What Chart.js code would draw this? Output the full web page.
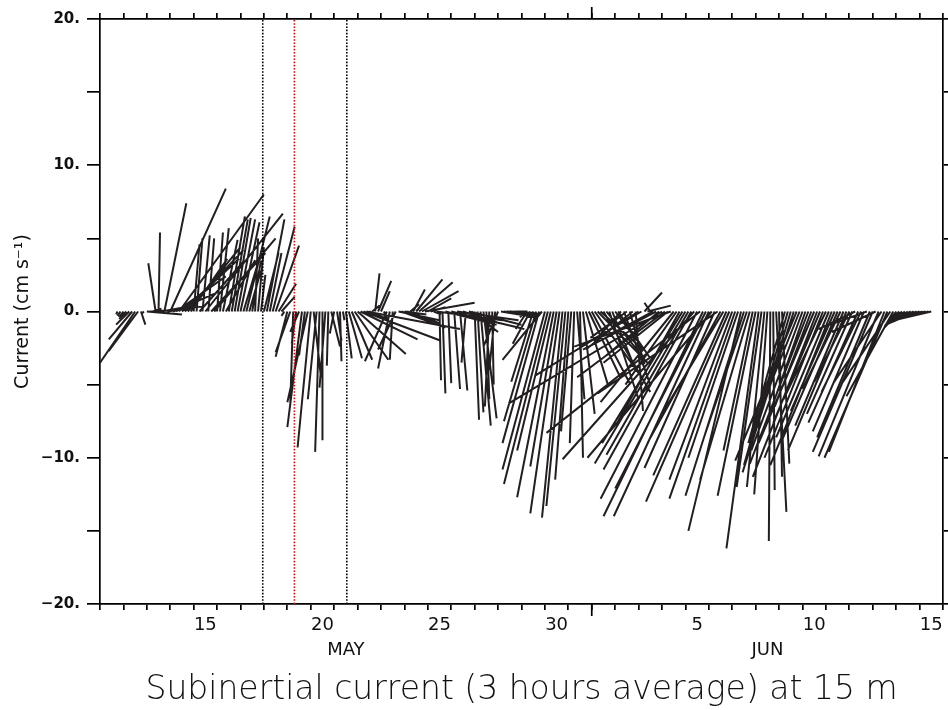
<!DOCTYPE html>
<html>
<head>
<meta charset="utf-8">
<script src="https://cdn.jsdelivr.net/npm/chart.js@4.4.0/dist/chart.umd.min.js"></script>
<style>
html,body{margin:0;padding:0;background:#ffffff;}
#wrap{width:948px;height:710px;position:relative;}
</style>
</head>
<body>
<div id="wrap"><canvas id="c" width="948" height="710"></canvas></div>
<script>
// ---- time axis: days after 11 May 00:00 ----
const START_DAY = 0.75;      // first 3-hour average (11 May 18:00)
const STEP_DAYS = 0.125;     // 3 hours
const STICK_DAYS_PER_CMS = 0.6245; // stick x-extent: days per cm/s (equal aspect with y)

// ---- eastward (u) and northward (v) current, cm/s, one value per 3 h ----
const uVel = [
 -0.1,-0.2,-0.3,-0.5,-0.9,-1.6,-2.4,-2.0,0.3,-0.1,
 2.4,1.8,0.6,-0.5,0.1,1.6,1.5,2.6,3.8,2.8,
 3.4,5.8,3.9,4.0,3.6,2.5,0.4,0.4,3.0,0.5,
 5.3,0.4,3.7,4.2,0.4,0.6,1.0,2.0,1.1,1.1,
 1.1,1.2,1.3,1.2,1.6,0.8,0.6,0.2,0.4,0.3,
 1.0,1.2,0.8,1.5,1.6,1.2,0.9,-0.2,-0.8,-1.0,
 -0.2,-0.3,-0.6,-1.0,-0.4,-1.4,-0.9,0.5,-0.6,-0.3,
 0.0,-0.4,-0.1,0.6,-0.3,0.3,0.1,0.1,0.4,0.9,
 1.4,2.3,3.3,3.9,5.3,6.4,1.2,0.5,0.3,0.9,
 0.6,0.3,-1.5,-0.8,-0.2,-1.2,2.8,3.0,1.5,2.2,
 0.6,0.8,1.8,2.3,2.5,3.4,1.6,1.0,0.5,4.5,
 0.1,0.2,3.5,0.2,5.0,0.4,4.2,0.5,2.5,-0.3,
 3.6,1.8,0.3,0.4,0.7,0.9,0.2,-0.3,0.1,-0.4,
 -1.0,2.4,2.3,2.2,1.9,1.5,0.8,0.3,0.2,-0.3,
 -0.8,-1.2,-1.5,-2.2,-2.5,-2.7,-2.9,-3.0,-2.3,-2.5,
 -1.8,-2.0,-1.4,-1.3,-0.9,-0.7,-0.3,0.5,0.2,0.8,
 1.5,2.2,2.6,3.0,3.5,2.9,3.2,2.4,2.0,1.6,
 1.5,2.2,-1.8,1.8,-2.5,1.0,-3.2,0.5,-7.1,-4.2,
 1.2,1.6,-0.4,-3.0,-5.0,-3.6,-10.5,-6.0,-4.4,-6.6,
 -5.0,-3.5,-4.2,-5.5,-6.2,-5.6,-6.0,-9.0,-6.6,-10.5,
 -6.8,-6.2,-6.5,-8.5,-4.8,-8.2,-5.0,-4.2,-5.0,-5.7,
 -4.3,-4.5,-3.4,-3.6,-4.0,-2.9,-3.4,-2.0,-2.6,-2.2,
 -1.7,-1.2,-0.9,-0.1,0.1,0.7,0.2,0.5,-2.5,-3.0,
 -2.4,-3.5,-4.2,-2.8,-3.5,-2.8,-4.0,-2.5,-3.8,-4.4,
 -3.2,-4.0,-2.9,-3.6,-4.2,-3.0,-3.8,-2.6,-3.3,-4.0,
 -2.4,-3.1,-2.5,-3.4,-2.7,-3.5,-2.8,-3.6,-4.1,-3.0,
 -4.1,-3.3,-3.8,-4.3,-3.3,-3.2,-0.8,-1.0,-1.2,-1.4,
 -1.6,-1.7,-1.9,-2.1,-2.3,-2.5,-2.6,-2.8,-3.0
];
const vVel = [
 -0.2,-0.3,-0.4,-0.5,-0.9,-1.9,-3.5,-2.7,-0.9,-0.1,
 -0.2,0.1,0.2,3.3,5.4,0.3,7.4,0.4,8.4,1.2,
 2.4,8.0,3.6,4.2,4.4,3.6,4.6,5.0,3.4,5.2,
 6.7,5.0,4.0,5.0,5.4,5.7,4.9,3.5,6.5,6.3,
 6.4,6.3,6.1,4.0,6.5,2.8,3.5,5.0,4.4,2.5,
 4.0,6.3,4.0,5.8,4.5,1.9,1.0,-0.3,-3.1,-2.8,
 -6.4,-2.2,-1.4,-7.9,-3.0,-6.2,-9.3,-4.5,-6.0,-9.6,
 -8.8,-5.2,-3.7,-2.4,-1.5,-2.0,-3.4,-0.6,-3.2,-3.2,
 -3.3,-3.3,-2.9,-1.9,-2.0,-1.2,-0.5,0.4,2.6,2.1,
 1.4,-0.7,-3.4,-3.9,-3.3,-2.6,-0.6,-1.1,-0.2,-0.8,
 0.5,1.5,2.2,2.0,1.4,0.6,0.9,0.3,-0.2,-0.6,
 -4.7,-5.6,-0.9,-4.9,-1.2,-5.3,-0.6,-5.4,-0.8,-3.5,
 -0.9,-1.4,-7.4,-6.9,-7.8,-7.3,-6.0,-6.5,-5.0,-4.0,
 -2.4,-0.4,-0.3,-0.2,-0.15,-0.1,0.0,0.0,-0.1,-0.4,
 -1.2,-2.2,-4.8,-7.5,-9.0,-3.3,-10.8,-11.8,-9.5,-12.7,
 -10.6,-13.8,-14.1,-13.3,-11.5,-8.2,-9.0,-6.0,-10.0,-7.0,
 -5.0,-4.6,-4.9,-4.2,-3.6,-2.6,-5.5,-3.0,-6.0,-4.0,
 -2.0,-3.2,-2.0,-5.0,-1.8,-3.6,-2.6,-6.8,-4.4,-2.4,
 1.3,0.4,0.6,-1.6,-2.6,-3.0,-6.3,-4.5,-3.5,-2.4,
 -6.2,-5.0,-7.5,-9.0,-10.4,-9.8,-10.8,-10.1,-12.8,-8.3,
 -14.0,-12.1,-14.0,-10.0,-10.7,-5.6,-9.0,-7.0,-11.2,-13.0,
 -11.5,-12.8,-10.0,-15.0,-12.6,-8.5,-11.5,-9.5,-12.6,-16.2,
 -12.0,-12.0,-12.5,-15.7,-12.2,-13.7,-11.3,-10.4,-9.0,-10.5,
 -8.0,-11.0,-10.2,-7.0,-9.5,-8.0,-10.4,-6.5,-9.0,-11.3,
 -7.6,-10.0,-6.0,-8.6,-10.5,-6.8,-8.8,-5.3,-7.8,-9.5,
 -4.8,-7.0,-1.2,-7.6,-5.5,-8.2,-1.0,-8.6,-9.6,-1.4,
 -9.9,-4.9,-9.6,-10.0,-4.9,-5.8,-1.1,-1.1,-1.0,-1.0,
 -1.0,-0.9,-0.9,-0.9,-0.8,-0.8,-0.7,-0.7,-0.7
];

// ---- axis ticks and labels ----
const dayTicks = [0,1,2,3,4,5,6,7,8,9,10,11,12,13,14,15,16,17,18,19,20,21,22,23,24,25,26,27,28,29,30,31,32,33,34,35,36];
const dayNumberLabels = {4:'15', 9:'20', 14:'25', 19:'30', 25:'5', 30:'10', 35:'15'};
const monthLabels = {10:'MAY', 28:'JUN'};
const monthBoundaryDay = 21;   // 1 June
const yTickValues = [-20,-15,-10,-5,0,5,10,15,20];
const yTickLabels = {'20':'20.', '10':'10.', '0':'0.', '-10':'\u221210.', '-20':'\u221220.'};

// ---- marked instants (days after 11 May 00:00) ----
const blackMarkers = [6.95, 10.54];
const redMarkers = [8.30];

// ---- build stick segments through the chart's own scales ----
const stickPoints = [];
uVel.forEach((u, i) => {
  const t = START_DAY + i * STEP_DAYS;
  stickPoints.push({x: t, y: 0});
  stickPoints.push({x: t + u * STICK_DAYS_PER_CMS, y: vVel[i]});
  stickPoints.push({x: t, y: null});
});

function markerData(list){
  const pts = [];
  list.forEach(d => { pts.push({x:d, y:-20}, {x:d, y:20}, {x:d, y:null}); });
  return pts;
}

const AXIS_COLOR = '#000000';
const AXIS_W = 1.7;

const monthTick = {
  id: 'monthTick',
  afterDraw(chart){
    const {ctx, chartArea} = chart;
    const px = chart.scales.x.getPixelForValue(monthBoundaryDay);
    ctx.save();
    ctx.strokeStyle = AXIS_COLOR;
    ctx.lineWidth = AXIS_W;
    ctx.beginPath();
    ctx.moveTo(px, chartArea.bottom); ctx.lineTo(px, chartArea.bottom + 12);
    ctx.moveTo(px, chartArea.top); ctx.lineTo(px, chartArea.top - 12);
    ctx.stroke();
    ctx.restore();
  }
};

new Chart(document.getElementById('c'), {
  type: 'line',
  data: {
    datasets: [
      {label:'red', data: markerData(redMarkers), borderColor:'#e01010', borderWidth:1.6,
       borderDash:[1.6,1.6], pointRadius:0, spanGaps:false, fill:false},
      {label:'black', data: markerData(blackMarkers), borderColor:'#000000', borderWidth:1.6,
       borderDash:[1.6,1.6], pointRadius:0, spanGaps:false, fill:false},
      {label:'sticks', data: stickPoints, borderColor:'#231f20', borderWidth:2,
       pointRadius:0, spanGaps:false, fill:false, tension:0}
    ]
  },
  options: {
    responsive: false,
    animation: false,
    devicePixelRatio: 1,
    layout: {padding: 0},
    plugins: {legend:{display:false}, tooltip:{enabled:false}, title:{display:false}},
    scales: {
      x: {
        type:'linear', position:'bottom', min:0, max:36,
        afterBuildTicks: s => { s.ticks = dayTicks.map(v => ({value:v})); },
        ticks: {
          autoSkip:false, maxRotation:0, minRotation:0, labelOffset:11.7, padding:3,
          color:'#111111',
          font:{family:'"DejaVu Sans", sans-serif', size:18, lineHeight:1.4},
          callback: v => monthLabels[v] ? ['', monthLabels[v]] : (dayNumberLabels[v] || '')
        },
        grid: {drawOnChartArea:false, drawTicks:true, tickLength:6, color:AXIS_COLOR, lineWidth:AXIS_W},
        border: {display:true, color:AXIS_COLOR, width:AXIS_W},
        title: {display:true, text:'Subinertial current (3 hours average) at 15 m',
                color:'#111111', font:{family:'"DejaVu Sans", sans-serif', weight:'200', size:33, lineHeight:1.2},
                padding:{top:0, bottom:0}},
        afterFit: s => { s.height = 106; }
      },
      xTop: {
        type:'linear', position:'top', min:0, max:36,
        afterBuildTicks: s => { s.ticks = dayTicks.map(v => ({value:v})); },
        ticks: {display:false},
        grid: {drawOnChartArea:false, drawTicks:true, tickLength:6, color:AXIS_COLOR, lineWidth:AXIS_W},
        border: {display:true, color:AXIS_COLOR, width:AXIS_W},
        afterFit: s => { s.height = 19; }
      },
      y: {
        type:'linear', position:'left', min:-20, max:20,
        afterBuildTicks: s => { s.ticks = yTickValues.map(v => ({value:v})); },
        ticks: {
          padding:7, color:'#111111',
          font:{family:'"DejaVu Sans", sans-serif', weight:'bold', size:15},
          callback: v => yTickLabels[String(v)] || ''
        },
        grid: {drawOnChartArea:false, drawTicks:true, tickLength:13, color:AXIS_COLOR, lineWidth:AXIS_W},
        border: {display:true, color:AXIS_COLOR, width:AXIS_W},
        title: {display:true, text:'Current (cm s\u207B\u00B9)', color:'#111111',
                font:{family:'"DejaVu Sans", sans-serif', size:19, lineHeight:1.2},
                padding:{top:12, bottom:0}},
        afterFit: s => { s.width = 100; }
      },
      yRight: {
        type:'linear', position:'right', min:-20, max:20,
        afterBuildTicks: s => { s.ticks = yTickValues.map(v => ({value:v})); },
        ticks: {display:false},
        grid: {drawOnChartArea:false, drawTicks:true, tickLength:5, color:AXIS_COLOR, lineWidth:AXIS_W},
        border: {display:true, color:AXIS_COLOR, width:AXIS_W},
        afterFit: s => { s.width = 5; }
      }
    }
  },
  plugins: [monthTick]
});
</script>
</body>
</html>
